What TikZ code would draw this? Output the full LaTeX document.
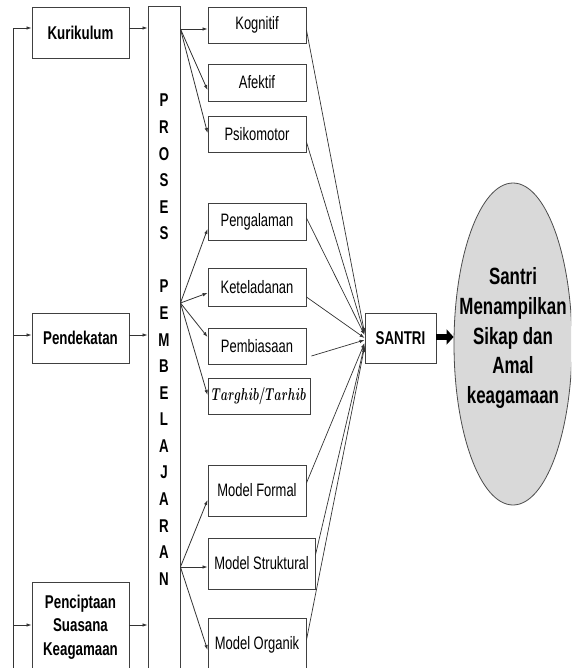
\documentclass[tikz,border=0pt]{standalone}
\usepackage[no-math]{fontspec}
\usepackage{graphicx}
\setmainfont{Liberation Sans}[FakeStretch=0.72]
\usetikzlibrary{arrows.meta,calc,shapes.geometric}
\tikzset{
  box/.style={draw=black!75, line width=0.9pt, inner sep=0pt, font=\fontsize{18}{22}\selectfont},
  bbox/.style={box, font=\fontsize{18.5}{23.5}\selectfont\bfseries, align=center},
  arr/.style={draw=black!80, line width=0.8pt, -{Latex[length=5pt,width=3.5pt]}},
  tie/.style={draw=black!80, line width=0.7pt, -{Latex[length=5pt,width=3.5pt]}},
  letter/.style={inner sep=0pt, font=\fontsize{18.5}{20}\selectfont\bfseries},
}
\begin{document}
\begin{tikzpicture}[x=1pt,y=-1pt]
\useasboundingbox (0,0) rectangle (571,668);
\clip (0,0) rectangle (571,668);
% left column
\node[bbox, minimum width=97pt, minimum height=51pt] (kur) at (80.5,32.5) {Kurikulum};
\node[bbox, minimum width=97pt, minimum height=50pt] (pend) at (80.5,338) {Pendekatan};
\node[bbox, minimum width=97pt, minimum height=90pt] (penc) at (80.5,627) {Penciptaan\\Suasana\\Keagamaan};
% process column
\node[box, minimum width=32pt, minimum height=666pt] (pro) at (164,339) {};
\foreach \c [count=\i] in {P,R,O,S,E,S,{},P,E,M,B,E,L,A,J,A,R,A,N}
  \node[letter] (let\i) at (164,{100.5+26.58*(\i-1)}) {\c};
% right column
\node[box, minimum width=98pt, minimum height=36pt] (kog) at (257,25) {Kognitif};
\node[box, minimum width=98pt, minimum height=37pt] (afe) at (257,82.5) {Afektif};
\node[box, minimum width=98pt, minimum height=36pt] (psi) at (257,134) {Psikomotor};
\node[box, minimum width=98pt, minimum height=37pt] (pen) at (257,221.5) {Pengalaman};
\node[box, minimum width=98pt, minimum height=38pt] (ket) at (257,287) {Keteladanan};
\node[box, minimum width=98pt, minimum height=36pt] (pem) at (257,346) {Pembiasaan};
\node[box, minimum width=102pt, minimum height=36pt, font=\fontsize{17.5}{20}\selectfont\boldmath] (tar) at (259,396) {\scalebox{0.655}[1]{$Targhib/Tarhib$}};
\node[box, minimum width=98pt, minimum height=51pt] (mf) at (257,490.5) {Model Formal};
\node[box, minimum width=107pt, minimum height=51pt] (ms) at (261.5,563.5) {Model Struktural};
\node[box, minimum width=98pt, minimum height=54pt] (mo) at (257,645) {Model Organik};
% santri and outcome
\node[bbox, minimum width=71pt, minimum height=50pt] (san) at (400.5,338) {SANTRI};
\node[ellipse, draw=black!70, line width=0.8pt, fill=black!15, minimum width=118pt, minimum height=322pt, inner sep=0pt] (ell) at (513,344) {};
\node[align=center, inner sep=0pt, font=\fontsize{23.5}{29.7}\selectfont\bfseries] (elltext) at ($(ell.center)+(0,-6)$) {Santri\\Menampilkan\\Sikap dan\\Amal\\keagamaan};
% left feeder line
\coordinate (lbot) at (13,675);
\coordinate (ltop) at (13,28);
\draw[black!80, line width=0.8pt] (lbot) -- (ltop);
\draw[arr] (ltop) -- (kur.west |- ltop);
\draw[arr] (ltop |- {$(pend.west)+(0,-3)$}) -- ($(pend.west)+(0,-3)$);
\draw[arr] (ltop |- {$(penc.west)+(0,-2)$}) -- ($(penc.west)+(0,-2)$);
% into process
\draw[arr] ($(kur.east)+(0,-4.5)$) -- (pro.west |- {$(kur.east)+(0,-4.5)$});
\draw[arr] ($(pend.east)+(0,-3)$) -- (pro.west |- {$(pend.east)+(0,-3)$});
\draw[arr] ($(penc.east)+(0,-2)$) -- (pro.west |- {$(penc.east)+(0,-2)$});
% fans
\coordinate (f1) at (pro.east |- 0,29);
\coordinate (f2) at (pro.east |- 0,303);
\coordinate (f3) at (pro.east |- 0,567);
\draw[arr] (f1) -- ($(kog.west)+(0,4)$);
\draw[arr] (f1) -- ($(afe.west)+(0,7.5)$);
\draw[arr] (f1) -- ($(psi.west)+(0,-1)$);
\draw[arr] (f2) -- ($(pen.west)+(0,7.5)$);
\draw[arr] (f2) -- ($(ket.west)+(0,6)$);
\draw[arr] (f2) -- ($(pem.west)+(0,-9)$);
\draw[arr] (f2) -- ($(tar.west)+(0,-1)$);
\draw[arr] (f3) -- ($(mf.west)+(0,9.5)$);
\draw[arr] (f3) -- ($(ms.west)+(0,3.5)$);
\draw[arr] (f3) -- ($(mo.west)+(0,5)$);
% to santri
\draw[tie] ($(kog.east)+(0,5)$) -- ($(san.west)+(0,-5)$);
\draw[tie] ($(psi.east)+(0,8)$) -- ($(san.west)+(0,-4)$);
\draw[tie] ($(pen.east)+(0,-3.5)$) -- ($(san.west)+(0,-3)$);
\draw[tie] ($(ket.east)+(0,10)$) -- ($(san.west)+(0,0)$);
\draw[tie] ($(pem.east)+(5,10)$) -- ($(san.west)+(0,2)$);
\draw[tie] ($(mf.east)+(0,-7.5)$) -- ($(san.west)+(0,5)$);
\draw[tie] ($(ms.east)+(0,-8.5)$) -- ($(san.west)+(0,7)$);
\draw[tie] ($(mo.east)+(0,-5)$) -- ($(san.west)+(0,9)$);
% thick arrow
\draw[line width=6pt, -{Triangle[length=7pt,width=15pt]}] ($(san.east)+(0,-1)$) -- ($(ell.west)+(0,-7)$);
\end{tikzpicture}
\end{document}
